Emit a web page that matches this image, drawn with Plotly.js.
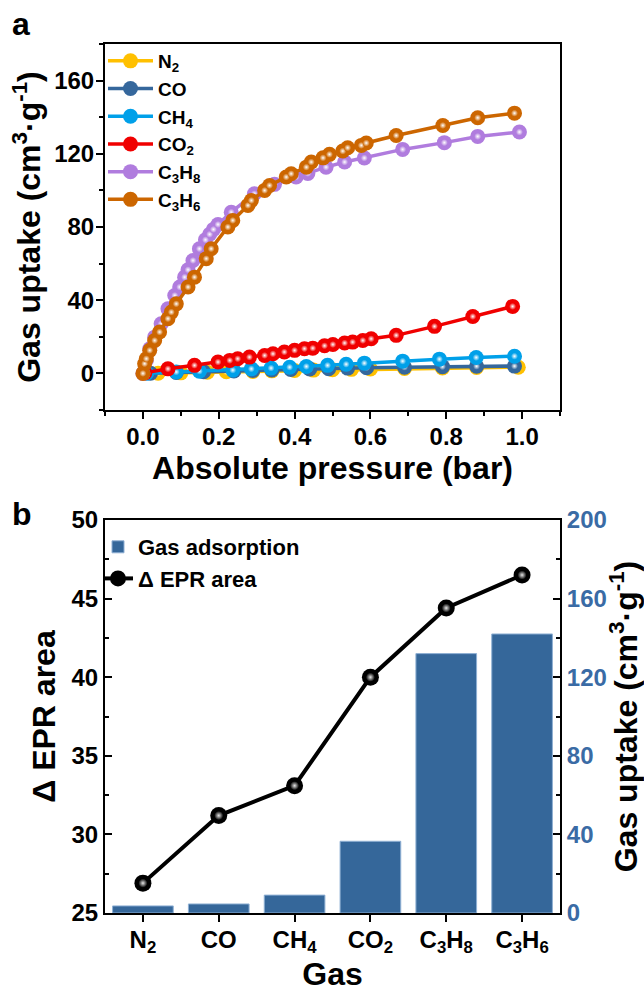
<!DOCTYPE html>
<html><head><meta charset="utf-8">
<script src="https://cdn.plot.ly/plotly-3.0.1.min.js"></script>
<style>html,body{margin:0;padding:0;background:#fff}#chart{width:644px;height:992px}</style>
</head><body><div id="chart"></div>
<script>
// ---- Panel a: adsorption isotherms ----
const seriesNames = ['N<sub>2</sub>', 'CO', 'CH<sub>4</sub>', 'CO<sub>2</sub>', 'C<sub>3</sub>H<sub>8</sub>', 'C<sub>3</sub>H<sub>6</sub>'];
const seriesColors = ['#FFC000', '#35679C', '#00A0E9', '#F00000', '#B07CDE', '#CC6600'];

const n2Pressure = [0.04, 0.10, 0.17, 0.22, 0.29, 0.34, 0.40, 0.45, 0.50, 0.55, 0.60, 0.69, 0.79, 0.88, 0.99];
const n2Uptake   = [0.1, 0.3, 0.6, 0.9, 1.1, 1.4, 1.6, 1.8, 2.0, 2.2, 2.4, 2.7, 3.0, 3.2, 3.4];

const coPressure = [0.02, 0.088, 0.16, 0.24, 0.29, 0.34, 0.39, 0.44, 0.49, 0.54, 0.59, 0.69, 0.79, 0.88, 0.98];
const coUptake   = [0.1, 0.5, 0.9, 1.3, 1.6, 1.9, 2.1, 2.4, 2.6, 2.9, 3.1, 3.4, 3.7, 3.9, 4.0];

const ch4Pressure = [0.01, 0.088, 0.149, 0.237, 0.286, 0.338, 0.387, 0.431, 0.487, 0.536, 0.584, 0.685, 0.782, 0.879, 0.98];
const ch4Uptake   = [0.1, 0.8, 1.2, 1.8, 2.5, 2.9, 3.4, 3.8, 4.4, 5.0, 5.6, 6.7, 7.8, 8.7, 9.4];

const co2Pressure = [0.005, 0.066, 0.136, 0.198, 0.229, 0.250, 0.281, 0.321, 0.343, 0.373, 0.400, 0.426, 0.448, 0.479, 0.501, 0.532, 0.553, 0.580, 0.602, 0.668, 0.769, 0.870, 0.975];
const co2Uptake   = [0.3, 2.5, 4.4, 6.2, 7.1, 8.0, 8.9, 9.8, 10.7, 11.7, 12.6, 13.5, 13.8, 15.1, 15.8, 16.6, 17.1, 18.0, 18.9, 20.8, 25.7, 31.1, 36.6];

const c3h8Pressure = [0, 0.009, 0.018, 0.031, 0.048, 0.066, 0.084, 0.097, 0.110, 0.119, 0.132, 0.149, 0.165, 0.176, 0.186, 0.198, 0.233, 0.294, 0.347, 0.404, 0.435, 0.483, 0.532, 0.584, 0.685, 0.795, 0.883, 0.993];
const c3h8Uptake   = [0, 7.1, 13.5, 19.8, 27.1, 35.3, 42.6, 47.2, 52.6, 56.6, 61.7, 68.1, 73.0, 76.0, 78.7, 81.4, 88.1, 98.2, 103.3, 107.3, 109.3, 112.7, 115.5, 117.7, 122.4, 126.1, 129.5, 131.9];

const c3h6Pressure = [0, 0.0045, 0.009, 0.018, 0.031, 0.044, 0.066, 0.075, 0.088, 0.119, 0.136, 0.167, 0.180, 0.224, 0.237, 0.277, 0.286, 0.321, 0.334, 0.378, 0.391, 0.431, 0.444, 0.475, 0.492, 0.527, 0.540, 0.576, 0.589, 0.668, 0.791, 0.883, 0.980];
const c3h6Uptake   = [0, 5.3, 8.0, 12.6, 18.0, 22.6, 29.9, 33.5, 38.0, 47.2, 52.6, 62.7, 68.1, 80.0, 83.6, 91.8, 94.5, 100.0, 102.7, 107.3, 109.1, 112.7, 115.5, 117.8, 119.7, 121.5, 123.3, 124.6, 125.9, 130.0, 135.5, 139.7, 142.2];

// ---- Panel b: gas comparison ----
const gasLabels = ['N<sub>2</sub>', 'CO', 'CH<sub>4</sub>', 'CO<sub>2</sub>', 'C<sub>3</sub>H<sub>8</sub>', 'C<sub>3</sub>H<sub>6</sub>'];
const gasUptake = [3.6, 4.6, 9.1, 36.5, 132, 142];
const eprArea   = [26.9, 31.2, 33.1, 40.0, 44.4, 46.5];

const pressures = [n2Pressure, coPressure, ch4Pressure, co2Pressure, c3h8Pressure, c3h6Pressure];
const uptakes   = [n2Uptake, coUptake, ch4Uptake, co2Uptake, c3h8Uptake, c3h6Uptake];

const FONT = 'Liberation Sans, Arial, Helvetica, sans-serif';
const traces = [];
for (let i = 0; i < seriesNames.length; i++) {
  traces.push({
    x: pressures[i], y: uptakes[i], name: seriesNames[i], type: 'scatter', mode: 'lines+markers',
    xaxis: 'x', yaxis: 'y', legend: 'legend',
    line: {color: seriesColors[i], width: 3.5},
    marker: {color: seriesColors[i], size: 15, line: {width: 0}},
    cliponaxis: false
  });
  traces.push({
    x: pressures[i], y: uptakes[i], type: 'scatter', mode: 'markers', showlegend: false, hoverinfo: 'skip',
    xaxis: 'x', yaxis: 'y',
    marker: {color: seriesColors[i], size: 7, line: {width: 0}, gradient: {type: 'radial', color: '#ffffff'}}
  });
}
traces.push({
  x: gasLabels, y: gasUptake, type: 'bar', name: 'Gas adsorption', xaxis: 'x2', yaxis: 'y2',
  legend: 'legend2', legendgroup: 'g1', width: 0.8,
  marker: {color: '#35679A', line: {color: '#8fb0d4', width: 1}}
});
traces.push({
  x: gasLabels, y: eprArea, type: 'scatter', mode: 'lines+markers', name: '\u0394 EPR area',
  xaxis: 'x2', yaxis: 'y3', legend: 'legend2', legendgroup: 'g2',
  line: {color: '#000000', width: 4},
  marker: {color: '#000000', size: 17, line: {width: 0}}, cliponaxis: false
});
traces.push({
  x: gasLabels, y: eprArea, type: 'scatter', mode: 'markers', showlegend: false, hoverinfo: 'skip',
  xaxis: 'x2', yaxis: 'y3',
  marker: {color: '#000000', size: 9, line: {width: 0}, gradient: {type: 'radial', color: '#e8e8e8'}}
});

const tickFont = {family: FONT, size: 24, color: '#000', weight: 'bold'};
const titleFont = {family: FONT, size: 32, color: '#000', weight: 'bold'};
const axBase = {
  showline: true, linecolor: '#000', linewidth: 2, showgrid: false, zeroline: false,
  tickcolor: '#000', tickwidth: 2, ticklen: 7, tickfont: tickFont
};
const domX = [105/644, 560/644];

const layout = {
  width: 644, height: 992, margin: {l: 0, r: 0, t: 0, b: 0},
  paper_bgcolor: '#fff', plot_bgcolor: 'rgba(0,0,0,0)',
  font: {family: FONT, color: '#000', weight: 'bold'},
  showlegend: true,
  xaxis: Object.assign({}, axBase, {
    domain: domX, anchor: 'y', range: [-0.1, 1.1], tick0: 0, dtick: 0.2, tickformat: '.1f',
    ticks: 'outside', mirror: true, ticklabelstandoff: -3,
    minor: {dtick: 0.1, ticks: 'outside', ticklen: 4, tickwidth: 2, tickcolor: '#000'},
    title: {text: 'Absolute pressure (bar)', font: titleFont, standoff: 6}
  }),
  yaxis: Object.assign({}, axBase, {
    domain: [1 - 410/992, 1 - 44/992], anchor: 'x', range: [-20, 180], tick0: 0, dtick: 40,
    ticks: 'outside', mirror: true, ticklabelstandoff: -3,
    minor: {dtick: 20, ticks: 'outside', ticklen: 4, tickwidth: 2, tickcolor: '#000'},
    title: {text: 'Gas uptake (cm<sup>3</sup>\u00b7g<sup>-1</sup>)', font: titleFont, standoff: 4}
  }),
  xaxis2: Object.assign({}, axBase, {
    domain: domX, anchor: 'y2', type: 'category', categoryorder: 'array', categoryarray: gasLabels,
    range: [-0.5, 5.5], ticks: 'outside', mirror: true, ticklabelstandoff: -3,
    title: {text: 'Gas', font: titleFont, standoff: 4}
  }),
  yaxis2: Object.assign({}, axBase, {
    domain: [1 - 913/992, 1 - 520/992], anchor: 'x2', side: 'right', range: [0, 200], tick0: 0, dtick: 40,
    ticks: 'inside', tickfont: Object.assign({}, tickFont, {color: '#3A6BA5'}),
    minor: {dtick: 20, ticks: 'inside', ticklen: 4, tickwidth: 2, tickcolor: '#000'},
    title: {text: 'Gas uptake (cm<sup>3</sup>\u00b7g<sup>-1</sup>)', font: titleFont, standoff: 4}
  }),
  yaxis3: Object.assign({}, axBase, {
    overlaying: 'y2', anchor: 'x2', side: 'left', range: [25, 50], tick0: 25, dtick: 5,
    ticks: 'inside',
    minor: {dtick: 2.5, ticks: 'inside', ticklen: 4, tickwidth: 2, tickcolor: '#000'},
    title: {text: '\u0394 EPR area', font: titleFont, standoff: 6}
  }),
  legend: {
    x: 103/644, y: 1 - 42/992, xanchor: 'left', yanchor: 'top', bgcolor: 'rgba(0,0,0,0)',
    font: {family: FONT, size: 19, color: '#000', weight: 'bold'}, traceorder: 'normal',
    itemwidth: 45, borderwidth: 0, tracegroupgap: 0
  },
  legend2: {
    x: 98/644, y: 1 - 526/992, xanchor: 'left', yanchor: 'top', bgcolor: 'rgba(0,0,0,0)',
    font: {family: FONT, size: 22, color: '#000', weight: 'bold'}, traceorder: 'normal',
    tracegroupgap: 8, borderwidth: 0
  },
  annotations: [
    {text: 'a', xref: 'paper', yref: 'paper', x: 10/644, y: 1 - 4/992, xanchor: 'left', yanchor: 'top',
     showarrow: false, font: {family: FONT, size: 32, color: '#000', weight: 'bold'}},
    {text: 'b', xref: 'paper', yref: 'paper', x: 10/644, y: 1 - 494/992, xanchor: 'left', yanchor: 'top',
     showarrow: false, font: {family: FONT, size: 32, color: '#000', weight: 'bold'}}
  ]
};

Plotly.newPlot('chart', traces, layout, {displayModeBar: false, staticPlot: true});
</script>
</body></html>
